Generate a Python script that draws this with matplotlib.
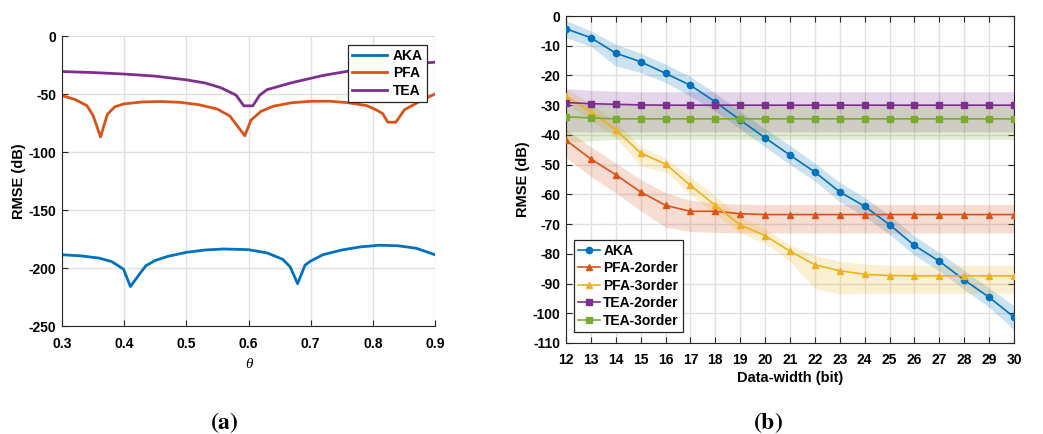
import numpy as np
import matplotlib
matplotlib.use("Agg")
import matplotlib.pyplot as plt

plt.rcParams['font.family'] = ['Liberation Sans', 'DejaVu Sans']
plt.rcParams['font.weight'] = 'bold'
plt.rcParams['axes.unicode_minus'] = False
plt.rcParams['mathtext.fontset'] = 'stix'

# ---- panel (a) data: RMSE vs theta ----
theta_aka = [0.30, 0.33, 0.36, 0.38, 0.399, 0.410, 0.425, 0.435, 0.45, 0.47, 0.50, 0.53,
             0.56, 0.60, 0.63, 0.655, 0.667, 0.679, 0.691, 0.70, 0.72, 0.75, 0.78, 0.81,
             0.84, 0.87, 0.90]
rmse_aka = [-188.6, -189.5, -191.5, -194.5, -201.0, -216.0, -205.0, -198.0, -193.5, -190.0,
            -186.5, -184.5, -183.6, -184.2, -187.0, -192.5, -199.0, -213.5, -197.5, -194.0,
            -188.5, -184.5, -181.8, -180.4, -180.8, -183.0, -188.6]

theta_pfa = [0.30, 0.32, 0.34, 0.35, 0.362, 0.373, 0.385, 0.40, 0.43, 0.46, 0.49, 0.52, 0.55,
             0.57, 0.594, 0.604, 0.62, 0.64, 0.67, 0.70, 0.73, 0.76, 0.79, 0.805, 0.816,
             0.824, 0.837, 0.851, 0.87, 0.89, 0.90]
rmse_pfa = [-51.4, -54.5, -60.0, -68.5, -87.0, -67.5, -61.0, -58.5, -56.8, -56.5, -57.2, -59.2,
            -63.0, -69.0, -86.0, -72.5, -65.0, -60.5, -57.5, -56.3, -56.2, -57.5, -60.0, -63.5,
            -67.0, -74.3, -74.3, -63.5, -58.0, -52.5, -50.0]

theta_tea = [0.30, 0.35, 0.40, 0.45, 0.50, 0.53, 0.555, 0.58, 0.5925, 0.607, 0.618, 0.63,
             0.67, 0.72, 0.78, 0.84, 0.90]
rmse_tea = [-30.6, -31.5, -32.8, -34.6, -37.8, -40.5, -44.5, -51.0, -60.2, -60.2, -51.0, -46.2,
            -40.2, -34.0, -28.5, -25.0, -22.6]

# ---- panel (b) data: RMSE vs data width ----
bits = list(range(12, 31))
aka = [-4.3, -7.3, -12.5, -15.4, -19.3, -23.3, -28.9, -35.0, -41.0, -46.8, -52.5, -59.2,
       -64.0, -70.2, -77.2, -82.5, -88.8, -94.6, -101.3]
aka_hi = [-1.5, -5.0, -9.5, -12.5, -16.2, -20.4, -26.0, -32.0, -38.0, -43.5, -49.5, -56.0,
          -61.0, -67.0, -74.0, -79.5, -85.5, -91.5, -97.5]
aka_lo = [-7.3, -10.3, -16.8, -19.0, -22.4, -27.0, -32.0, -38.0, -44.0, -50.0, -55.5, -62.5,
          -67.5, -73.5, -80.5, -85.8, -92.0, -98.0, -105.5]

pfa2 = [-41.8, -48.1, -53.4, -59.2, -63.7, -65.7, -65.7, -66.5, -66.8, -66.8, -66.8, -66.8,
        -66.8, -66.8, -66.8, -66.8, -66.8, -66.8, -66.8]
pfa2_hi = [-38.0, -44.0, -49.5, -55.0, -59.5, -62.0, -63.0, -63.3, -63.4, -63.4, -63.4, -63.4,
           -63.4, -63.4, -63.4, -63.4, -63.4, -63.4, -63.4]
pfa2_lo = [-47.5, -54.0, -59.5, -65.5, -71.0, -72.5, -72.8, -73.0, -73.0, -73.0, -73.0, -73.0,
           -73.0, -73.0, -73.0, -73.0, -73.0, -73.0, -73.0]

pfa3 = [-27.0, -32.2, -38.2, -46.1, -49.8, -57.0, -63.7, -70.3, -73.9, -79.1, -83.7, -85.7,
        -86.9, -87.3, -87.4, -87.4, -87.4, -87.4, -87.4]
pfa3_hi = [-24.5, -29.5, -35.5, -43.8, -48.0, -54.0, -60.5, -67.5, -71.5, -77.0, -80.5, -82.5,
           -83.5, -83.8, -83.8, -83.8, -83.8, -83.8, -83.8]
pfa3_lo = [-29.5, -35.0, -41.0, -50.5, -52.5, -60.0, -66.7, -73.0, -76.5, -82.5, -91.7, -93.5,
           -93.3, -93.3, -93.3, -93.3, -93.3, -93.3, -93.3]

tea2 = [-29.1, -29.5, -29.7, -29.9, -30.0, -30.0, -30.0, -30.0, -30.0, -30.0, -30.0, -30.0,
        -30.0, -30.0, -30.0, -30.0, -30.0, -30.0, -30.0]
tea2_hi = [-24.4, -25.0, -25.3, -25.5, -25.5, -25.5, -25.5, -25.5, -25.5, -25.5, -25.5, -25.5,
           -25.5, -25.5, -25.5, -25.5, -25.5, -25.5, -25.5]
tea2_lo = [-39.0] * 19

tea3 = [-33.9, -34.3, -34.6, -34.6, -34.6, -34.6, -34.6, -34.6, -34.6, -34.6, -34.6, -34.6,
        -34.6, -34.6, -34.6, -34.6, -34.6, -34.6, -34.6]
tea3_hi = [-30.2] * 19
tea3_lo = [-42.5, -42.0, -41.5, -41.5, -41.5, -41.5, -41.5, -41.5, -41.5, -41.5, -41.5, -41.5,
           -41.5, -41.5, -41.5, -41.5, -41.5, -41.5, -41.5]

c_blue = '#0072BD'
c_orange = '#D95319'
c_yellow = '#EDB120'
c_purple = '#7E2F8E'
c_green = '#77AC30'
grid_c = '#e0e0e0'
fs = 10

fig = plt.figure(figsize=(10.43, 4.34), dpi=100)

# ---------------- (a) ----------------
ax1 = fig.add_axes([62 / 1043, 108 / 434, 373 / 1043, 290 / 434])
ax1.plot(theta_aka, rmse_aka, color=c_blue, lw=2, label='AKA')
ax1.plot(theta_pfa, rmse_pfa, color=c_orange, lw=2, label='PFA')
ax1.plot(theta_tea, rmse_tea, color=c_purple, lw=2, label='TEA')
ax1.set_xlim(0.3, 0.9)
ax1.set_ylim(-250, 0)
ax1.set_xticks(np.arange(0.3, 0.91, 0.1))
ax1.set_xticklabels(['0.3', '0.4', '0.5', '0.6', '0.7', '0.8', '0.9'])
ax1.set_yticks(range(-250, 1, 50))
ax1.grid(True, color=grid_c, lw=1)
ax1.set_axisbelow(True)
for s in ['top', 'right']:
    ax1.spines[s].set_visible(False)
for s in ['left', 'bottom']:
    ax1.spines[s].set_color('#262626')
ax1.tick_params(direction='in', labelsize=fs, length=4, color='#262626', pad=4)
ax1.tick_params(axis='x', pad=8)
ax1.set_ylabel('RMSE (dB)', fontsize=fs + 0.5, fontweight='bold', labelpad=2)
ax1.set_xlabel('θ', fontsize=11, fontweight='normal', style='italic',
               family=['Liberation Serif', 'DejaVu Serif'], labelpad=5)
leg1 = ax1.legend(loc='upper right', bbox_to_anchor=(0.978, 0.97), fontsize=fs,
                  fancybox=False, framealpha=1, edgecolor='#262626', handlelength=2.5,
                  labelspacing=0.25, borderpad=0.3, handletextpad=0.4, borderaxespad=0)
leg1.get_frame().set_linewidth(0.9)

# ---------------- (b) ----------------
ax2 = fig.add_axes([566 / 1043, 91 / 434, 448 / 1043, 327 / 434])
series = [
    (aka, aka_hi, aka_lo, c_blue, 'o', 'AKA'),
    (pfa2, pfa2_hi, pfa2_lo, c_orange, '^', 'PFA-2order'),
    (pfa3, pfa3_hi, pfa3_lo, c_yellow, '^', 'PFA-3order'),
    (tea2, tea2_hi, tea2_lo, c_purple, 's', 'TEA-2order'),
    (tea3, tea3_hi, tea3_lo, c_green, 's', 'TEA-3order'),
]
for vals, hi, lo, col, mk, lab in series:
    ax2.fill_between(bits, lo, hi, color=col, alpha=0.2, lw=0, zorder=1)
for vals, hi, lo, col, mk, lab in series:
    ax2.plot(bits, vals, color=col, marker=mk, markersize=4.5, lw=1.2, label=lab, zorder=3)
ax2.set_xlim(12, 30)
ax2.set_ylim(-110, 0)
ax2.set_xticks(bits)
ax2.set_yticks(range(-110, 1, 10))
ax2.grid(True, color=grid_c, lw=1)
ax2.set_axisbelow(True)
for s in ax2.spines.values():
    s.set_color('#262626')
ax2.tick_params(direction='in', labelsize=fs, length=4, color='#262626', pad=4,
                top=True, right=True)
ax2.tick_params(axis='x', pad=7)
ax2.set_ylabel('RMSE (dB)', fontsize=fs + 0.5, fontweight='bold', labelpad=2)
ax2.set_xlabel('Data-width (bit)', fontsize=fs + 0.5, fontweight='bold', labelpad=3)
leg2 = ax2.legend(loc='lower left', bbox_to_anchor=(0.018, 0.034), fontsize=fs,
                  fancybox=False, framealpha=1, edgecolor='#262626', handlelength=1.6,
                  labelspacing=0.25, borderpad=0.3, handletextpad=0.2, borderaxespad=0)
leg2.get_frame().set_linewidth(0.9)

# captions
fig.text(224 / 1043, 1 - 423 / 434, r'$(\mathbf{a})$', ha='center', va='center', fontsize=17)
fig.text(768 / 1043, 1 - 423 / 434, r'$(\mathbf{b})$', ha='center', va='center', fontsize=17)

fig.savefig('out.png', dpi=100)
